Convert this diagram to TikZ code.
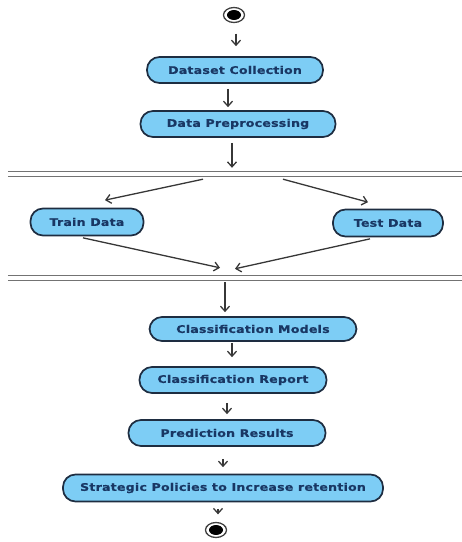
\documentclass[tikz,border=0pt]{standalone}
\usepackage{fontspec}
\newfontfamily\lblfont[FakeStretch=1.2,LetterSpace=2,FakeBold=0.6]{DejaVu Sans Bold}
\usetikzlibrary{arrows.meta,calc,shapes.geometric}
\definecolor{boxfill}{RGB}{125,205,245}
\definecolor{boxline}{RGB}{30,45,65}
\definecolor{boxtext}{RGB}{25,55,100}
\definecolor{arrline}{RGB}{55,55,55}
\definecolor{barline}{RGB}{115,115,115}
\tikzset{
  actbox/.style={draw=boxline, fill=boxfill, line width=1.7pt, rounded corners=12.5pt,
    minimum height=26pt, inner sep=0pt, text=boxtext, font=\lblfont\fontsize{10.5}{11}\selectfont},
  arr/.style={draw=arrline, line width=1.3pt, -{Straight Barb[length=5pt,width=9pt,line width=1.3pt]}},
  barnode/.style={minimum width=454pt, minimum height=4pt, inner sep=0pt, draw=none},
  barl/.style={draw=barline, line width=1.3pt},
  startnode/.style={ellipse, draw=black!75, line width=1.3pt, fill=white, minimum width=21pt, minimum height=15pt, inner sep=0pt},
}
\begin{document}
\begin{tikzpicture}[x=1pt,y=1pt]
\useasboundingbox (0,0) rectangle (462,542);
% start / end
\node[startnode] (start) at (234,527) {};
\fill[black] (start.center) ellipse [x radius=7pt, y radius=5pt];
\node[startnode] (end) at (216,12) {};
\fill[black] (end.center) ellipse [x radius=7pt, y radius=5pt];
% activities
\node[actbox, minimum width=176pt] (ds) at (235,472) {Dataset Collection};
\node[actbox, minimum width=195pt] (dp) at (238,418) {Data Preprocessing};
\node[actbox, minimum width=113pt, minimum height=27pt] (train) at (87,320) {Train Data};
\node[actbox, minimum width=110pt, minimum height=27pt] (test) at (388,319) {Test Data};
\node[actbox, minimum width=207pt, minimum height=24pt] (cm) at (253,213) {Classification Models};
\node[actbox, minimum width=187pt] (cr) at (233,162) {Classification Report};
\node[actbox, minimum width=197pt] (pr) at (227,109) {Prediction Results};
\node[actbox, minimum width=320pt, minimum height=27pt] (sp) at (223,54) {Strategic Policies to Increase retention};
% fork / join bars
\node[barnode] (bar1) at (235,368) {};
\draw[barl] (bar1.north west) -- (bar1.north east);
\draw[barl] (bar1.south west) -- (bar1.south east);
\node[barnode] (bar2) at (235,264) {};
\draw[barl] (bar2.north west) -- (bar2.north east);
\draw[barl] (bar2.south west) -- (bar2.south east);
% connectors
\draw[arr] ($(start.south)+(2,-10.5)$) -- ($(ds.north)+(1,10)$);
\draw[arr] ($(ds.south)+(-7,-5)$) -- ($(dp.north)+(-10,3)$);
\draw[arr] ($(dp.south)+(-6,-5)$) -- ($(bar1.north)+(-3,4)$);
\draw[arr] ($(bar1.south)+(-32,-3)$) -- ($(train.north)+(18,7.5)$);
\draw[arr] ($(bar1.south)+(48,-3)$) -- ($(test.north)+(-20,6.5)$);
\draw[arr] ($(train.south)+(-4,-1.5)$) -- ($(bar2.north)+(-15,8)$);
\draw[arr] ($(test.south)+(-18,-1.5)$) -- ($(bar2.north)+(0,7)$);
\draw[arr] ($(bar2.south)+(-10,-2)$) -- ($(cm.north)+(-28,4)$);
\draw[arr] ($(cm.south)+(-21,-1)$) -- ($(cr.north)+(-1,9)$);
\draw[arr] ($(cr.south)+(-6,-9)$) -- ($(pr.north)+(0,5)$);
\draw[arr] ($(pr.south)+(-4,-12)$) -- ($(sp.north)+(0,6.5)$);
\draw[arr] ($(sp.south)+(-5,-6.5)$) -- ($(end.north)+(2,7.5)$);
\end{tikzpicture}
\end{document}
